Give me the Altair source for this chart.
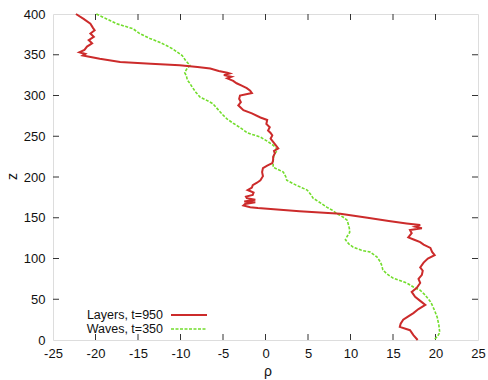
import altair as alt
import pandas as pd

# ---- data ----
series_names = ["Layers, t=950", "Waves, t=350"]
series_colors = ["#cc2b2b", "#72dd2c"]

layers_z = [400, 394, 388, 383, 380, 376, 372, 368, 364, 360, 356, 353, 351, 349,
            345, 341, 339, 337, 335, 333, 330, 328, 327, 325, 323, 321, 318, 315,
            312, 309, 306, 303, 300, 296, 292, 288, 285, 282, 278, 273, 270, 265,
            261, 257, 254, 251, 247, 243, 239, 235, 232, 229, 225, 221, 217, 214,
            211, 206, 201, 196, 193, 190, 187, 184, 181, 178, 176, 174, 172, 170,
            169, 167, 165, 163, 162, 158, 155, 150, 146, 143, 141, 139, 137, 135,
            131, 126, 123, 120, 117, 113, 108, 104, 100, 95, 89, 85, 80, 75, 70,
            64, 59, 53, 48, 43, 38, 33, 29, 25, 20, 16, 12, 6, 0]
layers_rho = [-22.3, -21.4, -20.6, -20.3, -20.1, -20.6, -20.2, -20.8, -20.4, -21.0,
              -21.3, -21.9, -21.2, -21.5, -19.5, -17.1, -13.5, -10.1, -8.0, -6.5,
              -5.5, -4.5, -4.2, -4.9, -4.0, -4.5, -3.8, -3.4, -2.8, -2.2, -1.8, -1.6,
              -3.0, -3.1, -2.9, -3.2, -2.9, -2.6, -1.6, -0.6, 0.2, 0.1, 0.5, 0.3,
              0.6, 0.8, 0.6, 0.9, 1.2, 1.5, 1.0, 1.1, 0.9, 0.9, 0.8, 0.2, -0.3,
              -0.4, -0.3, -0.6, -1.0, -1.5, -1.6, -2.1, -1.4, -1.5, -2.3, -2.2,
              -1.2, -2.5, -1.2, -2.4, -2.6, -1.8, -0.9, 4.0, 8.8, 12.0, 14.5, 16.6,
              18.2, 17.6, 18.4, 17.0, 17.2, 16.8, 17.5, 18.2, 18.6, 19.4, 19.6,
              19.9, 19.1, 18.6, 18.2, 18.5, 18.4, 18.0, 18.2, 17.8, 17.2, 17.6,
              18.2, 18.8, 18.0, 17.4, 16.8, 16.2, 15.9, 15.8, 17.0, 17.4, 17.9]

waves_z = [400, 396, 392, 388, 382, 376, 370, 365, 361, 357, 349, 343, 337, 332,
           328, 324, 319, 315, 310, 304, 298, 294, 290, 283, 276, 271, 266, 260,
           254, 249, 244, 239, 236, 233, 227, 221, 216, 212, 206, 200, 196, 190,
           184, 179, 174, 168, 163, 159, 155, 151, 147, 140, 135, 132, 127, 123,
           118, 114, 110, 108, 102, 96, 91, 86, 81, 76, 73, 70, 65, 61, 56, 51,
           47, 43, 36, 28, 18, 9, 4, 1]
waves_rho = [-19.9, -19.1, -18.3, -17.5, -15.6, -14.8, -13.6, -12.4, -11.6, -10.9,
             -9.8, -9.4, -8.9, -9.3, -9.5, -9.3, -9.2, -8.9, -8.6, -8.2, -7.7,
             -6.9, -6.2, -5.6, -5.0, -4.5, -3.8, -2.9, -2.1, -0.6, 0.2, 0.9, 1.2,
             1.4, 1.0, 0.9, 0.9, 0.9, 2.1, 2.4, 2.5, 3.6, 4.9, 5.3, 5.6, 6.5, 7.2,
             7.9, 8.4, 9.1, 9.6, 9.8, 9.9, 9.9, 9.6, 9.4, 9.8, 10.3, 11.3, 12.3,
             13.1, 13.5, 13.7, 13.8, 14.3, 15.0, 15.8, 16.6, 17.4, 18.2, 18.7,
             19.1, 19.4, 19.6, 19.9, 20.2, 20.4, 20.5, 20.2, 19.9]

x_ticks = [-25, -20, -15, -10, -5, 0, 5, 10, 15, 20, 25]
y_ticks = [0, 50, 100, 150, 200, 250, 300, 350, 400]

# ---- layout ----
W, H = 425, 326
FONT = "Liberation Sans"
FS = 13
LFS = 12.5
TICK = 6

df_layers = pd.DataFrame({"z": layers_z, "rho": layers_rho, "i": range(len(layers_z))})
df_waves = pd.DataFrame({"z": waves_z, "rho": waves_rho, "i": range(len(waves_z))})

xs = alt.Scale(domain=[x_ticks[0], x_ticks[-1]], nice=False, zero=False)
ys = alt.Scale(domain=[y_ticks[0], y_ticks[-1]], nice=False, zero=False)

x_axis = alt.Axis(values=x_ticks, title="ρ", ticks=False, tickSize=0, domain=False,
                  grid=False, labelPadding=7, labelFont=FONT, labelFontSize=FS,
                  labelColor="#111", labelExpr="'' + datum.value",
                  titleFont=FONT, titleFontSize=14,
                  titleFontWeight="normal", titleColor="#111",
                  titleBaseline="alphabetic", titleY=35, titleX=W / 2 + 2,
                  labelFlush=False)
y_axis = alt.Axis(values=y_ticks, title="z", ticks=False, tickSize=0, domain=False,
                  grid=False, labelPadding=8, labelFont=FONT, labelFontSize=FS,
                  labelColor="#111", labelExpr="'' + datum.value",
                  titleFont=FONT, titleFontSize=14,
                  titleFontWeight="normal", titleColor="#111",
                  titleBaseline="middle", titleX=-41, titleY=H / 2 - 1,
                  labelFlush=False)

layers_line = alt.Chart(df_layers).mark_line(
    color=series_colors[0], strokeWidth=2).encode(
    x=alt.X("rho:Q", scale=xs, axis=x_axis),
    y=alt.Y("z:Q", scale=ys, axis=y_axis),
    order=alt.Order("i:Q"))

waves_line = alt.Chart(df_waves).mark_line(
    color=series_colors[1], strokeWidth=1.6, strokeDash=[3, 1.5]).encode(
    x=alt.X("rho:Q", scale=xs, axis=x_axis),
    y=alt.Y("z:Q", scale=ys, axis=y_axis),
    order=alt.Order("i:Q"))

# inward ticks on all four sides (gnuplot style)
df_xt = pd.DataFrame({"t": x_ticks[1:-1]})
df_yt = pd.DataFrame({"t": y_ticks[1:-1]})
tick_color = "#333"
xt_bottom = alt.Chart(df_xt).mark_rule(color=tick_color).encode(
    x=alt.X("t:Q", scale=xs, axis=x_axis), y=alt.value(H - TICK), y2=alt.value(H))
xt_top = alt.Chart(df_xt).mark_rule(color=tick_color).encode(
    x=alt.X("t:Q", scale=xs, axis=x_axis), y=alt.value(0), y2=alt.value(TICK))
yt_left = alt.Chart(df_yt).mark_rule(color=tick_color).encode(
    y=alt.Y("t:Q", scale=ys, axis=y_axis), x=alt.value(0), x2=alt.value(TICK))
yt_right = alt.Chart(df_yt).mark_rule(color=tick_color).encode(
    y=alt.Y("t:Q", scale=ys, axis=y_axis), x=alt.value(W - TICK), x2=alt.value(W))

# manual legend (labels left of samples, as in the reference)
legend_layers = []
row_y = [301, 315]
for k, name in enumerate(series_names):
    ldf = pd.DataFrame({"label": [name]})
    legend_layers.append(
        alt.Chart(ldf).mark_text(align="right", baseline="middle", font=FONT,
                                 fontSize=LFS, color="#111").encode(
            text="label:N", x=alt.value(110), y=alt.value(row_y[k])))
    rule_kwargs = dict(color=series_colors[k], strokeWidth=2 if k == 0 else 1.6)
    if k == 1:
        rule_kwargs["strokeDash"] = [3, 1.5]
    legend_layers.append(
        alt.Chart(ldf).mark_rule(**rule_kwargs).encode(
            x=alt.value(118), x2=alt.value(154), y=alt.value(row_y[k])))

chart = alt.layer(
    xt_bottom, xt_top, yt_left, yt_right, waves_line, layers_line, *legend_layers
).properties(
    width=W, height=H,
    autosize=alt.AutoSizeParams(type="none"),
    padding={"left": 53, "top": 14, "right": 10, "bottom": 40},
).configure_view(
    stroke="#333", strokeWidth=1.2
).configure(background="white")

chart.save("out.html", embed_options={"renderer": "svg", "actions": False})
